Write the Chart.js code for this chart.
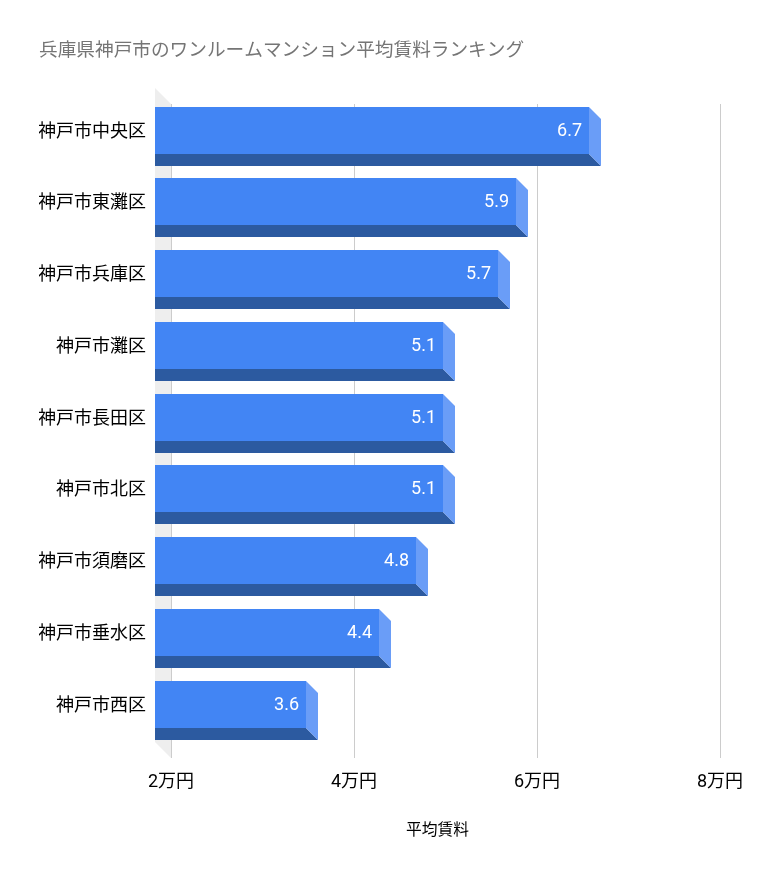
<!DOCTYPE html>
<html>
<head>
<meta charset="utf-8">
<style>
  html, body { margin: 0; padding: 0; background: #fff; }
  canvas { display: block; }
</style>
<script src="https://cdn.jsdelivr.net/npm/chart.js@4/dist/chart.umd.js"></script>
</head>
<body>
<canvas id="myCanvas" width="758" height="878"></canvas>
<script>
const chartTitle = '兵庫県神戸市のワンルームマンション平均賃料ランキング';
const axisTitle = '平均賃料';
const categories = ['神戸市中央区', '神戸市東灘区', '神戸市兵庫区', '神戸市灘区', '神戸市長田区', '神戸市北区', '神戸市須磨区', '神戸市垂水区', '神戸市西区'];
const rents = [6.7, 5.9, 5.7, 5.1, 5.1, 5.1, 4.8, 4.4, 3.6];
const xTicks = [2, 4, 6, 8];

const FONT = 'Roboto, "Noto Sans CJK JP", sans-serif';
const DEPTH = 12;      // side/bottom face size
const WALL = 16;       // how far the front plane sticks out left of the back wall

// pseudo 3d look: back wall + grid go under the bars, boxes go on top
const box3d = {
  id: 'box3d',
  beforeDatasetsDraw(chart) {
    const ctx = chart.ctx;
    const left = chart.chartArea.left;
    const wallTop = 104, wallBottom = 758;
    ctx.save();
    ctx.fillStyle = '#eeeeee';
    ctx.beginPath();
    ctx.moveTo(left - WALL, wallTop - WALL);
    ctx.lineTo(left, wallTop);
    ctx.lineTo(left, wallBottom);
    ctx.lineTo(left - WALL, wallBottom - WALL);
    ctx.closePath();
    ctx.fill();

    ctx.strokeStyle = '#cccccc';
    ctx.lineWidth = 1;
    chart.scales.x.ticks.forEach((t, i) => {
      const x = Math.round(chart.scales.x.getPixelForTick(i)) + 0.5;
      ctx.beginPath();
      ctx.moveTo(x, wallTop);
      ctx.lineTo(x, wallBottom);
      ctx.stroke();
    });
    ctx.restore();
  },
  afterDatasetsDraw(chart) {
    const ctx = chart.ctx;
    const left = chart.chartArea.left - WALL;
    ctx.save();
    chart.getDatasetMeta(0).data.forEach((bar, i) => {
      const top = Math.round(bar.y - bar.height / 2);
      const bottom = top + bar.height;
      const backX = Math.round(bar.x + 0.3);
      const frontX = backX - DEPTH;
      const frontBottom = bottom - DEPTH;

      ctx.fillStyle = '#2c5aa0';
      ctx.beginPath();
      ctx.moveTo(left, frontBottom);
      ctx.lineTo(frontX, frontBottom);
      ctx.lineTo(backX, bottom);
      ctx.lineTo(left, bottom);
      ctx.closePath();
      ctx.fill();

      ctx.fillStyle = '#6a9df7';
      ctx.beginPath();
      ctx.moveTo(frontX, top);
      ctx.lineTo(backX, top + DEPTH);
      ctx.lineTo(backX, bottom);
      ctx.lineTo(frontX, frontBottom);
      ctx.closePath();
      ctx.fill();

      ctx.fillStyle = '#4285f4';
      ctx.fillRect(left, top, frontX - left, frontBottom - top);

      ctx.fillStyle = '#ffffff';
      ctx.font = '18px ' + FONT;
      ctx.textAlign = 'right';
      ctx.textBaseline = 'middle';
      ctx.fillText(rents[i].toFixed(1), frontX - 7, (top + frontBottom) / 2 + 1);
    });

    // axis title is centred on the front plane, not on the chart area
    ctx.fillStyle = '#000000';
    ctx.font = '15.75px ' + FONT;
    ctx.textAlign = 'center';
    ctx.textBaseline = 'middle';
    ctx.fillText(axisTitle, (left + chart.chartArea.right) / 2, 831);
    ctx.restore();
  }
};

let canvas = document.getElementById('myCanvas');
let myBarChart = new Chart(canvas.getContext('2d'), {
  type: 'bar',
  data: {
    labels: categories,
    datasets: [{
      label: axisTitle,
      data: rents,
      backgroundColor: 'rgba(0,0,0,0)',
      barThickness: 59
    }]
  },
  options: {
    indexAxis: 'y',
    responsive: false,
    animation: false,
    layout: {
      autoPadding: false,
      padding: { left: 39, right: 38, top: 40, bottom: 0 }
    },
    plugins: {
      legend: { display: false },
      tooltip: { enabled: false },
      title: {
        display: true,
        text: chartTitle,
        align: 'start',
        color: '#757575',
        font: { family: FONT, size: 18.67, weight: 'normal' },
        padding: { top: 0, bottom: 37.9 }
      }
    },
    scales: {
      x: {
        min: 2,
        max: 8,
        afterBuildTicks: scale => { scale.ticks = xTicks.map(v => ({ value: v })); },
        afterFit: scale => {
          scale.height = 131.95;
          scale.paddingLeft = 0;
          scale.paddingRight = 0;
        },
        border: { display: false },
        grid: { display: false, drawTicks: false },
        ticks: {
          color: '#000000',
          font: { family: FONT, size: 18 },
          padding: 26,
          maxRotation: 0,
          callback: v => v + '万円'
        }
      },
      y: {
        afterFit: scale => { scale.width = 132; },
        border: { display: false },
        grid: { display: false, drawTicks: false },
        ticks: {
          color: '#000000',
          font: { family: FONT, size: 18 },
          padding: 25,
          labelOffset: -4,
          autoSkip: false
        }
      }
    }
  },
  plugins: [box3d]
});
</script>
</body>
</html>
